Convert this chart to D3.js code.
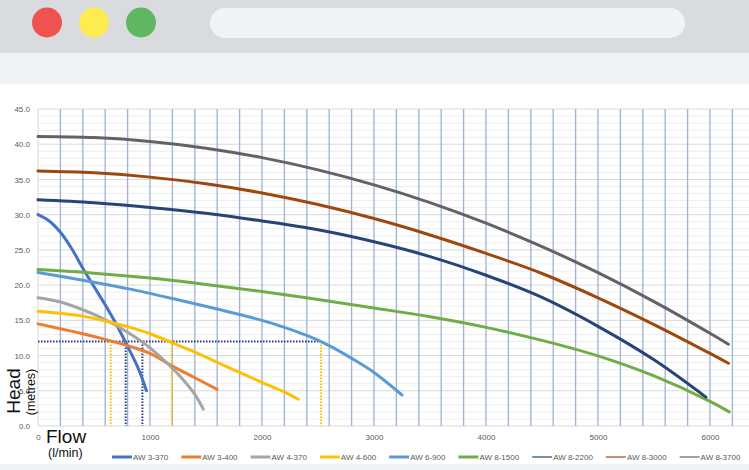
<!DOCTYPE html>
<html>
<head>
<meta charset="utf-8">
<script src="https://cdn.jsdelivr.net/npm/d3@7"></script>
<style>
  html, body { margin: 0; padding: 0; overflow: hidden; background: #f1f2f3; }
  svg { display: block; font-family: "Liberation Sans", Arial, sans-serif; }
  .tick text { fill: #595959; font-size: 8px; }
</style>
</head>
<body>
<div id="chart"></div>
<script>
// Pump curves: [flow l/min, head m]
const seriesNames = ['AW 3-370', 'AW 3-400', 'AW 4-370', 'AW 4-600', 'AW 6-900',
  'AW 8-1500', 'AW 8-2200', 'AW 8-3000', 'AW 8-3700'];

const aw3_370 = [[0, 30.0], [100, 29.1], [200, 27.5], [300, 25.2], [400, 22.4], [500, 19.8],
  [600, 17.2], [700, 14.4], [800, 11.3], [900, 8.0], [968, 5.0]];
const aw3_400 = [[0, 14.5], [200, 13.8], [400, 13.1], [600, 12.3], [800, 11.4], [1000, 10.3],
  [1200, 8.5], [1400, 6.85], [1600, 5.2]];
const aw4_370 = [[0, 18.2], [200, 17.6], [400, 16.5], [600, 15.1], [800, 13.3], [1000, 11.1],
  [1200, 8.2], [1300, 6.5], [1400, 4.5], [1476, 2.4]];
const aw4_600 = [[0, 16.3], [200, 16.0], [400, 15.6], [600, 14.9], [800, 14.1], [1000, 13.1],
  [1200, 11.8], [1400, 10.5], [1600, 9.05], [1800, 7.6], [2000, 6.2], [2200, 4.8], [2324, 3.8]];
const aw6_900 = [[0, 21.8], [400, 20.7], [800, 19.5], [1200, 18.1], [1600, 16.6], [2000, 15.0],
  [2200, 14.0], [2400, 12.85], [2600, 11.4], [2800, 9.6], [3000, 7.6], [3250, 4.4]];
const aw8_1500 = [[0, 22.2], [500, 21.7], [1000, 21.0], [1500, 20.1], [2000, 19.1], [2500, 17.95],
  [3000, 16.75], [3500, 15.5], [4000, 14.0], [4500, 12.15], [5000, 9.95], [5500, 7.1],
  [6000, 3.5], [6172, 2.0]];
const aw8_2200 = [[0, 32.1], [500, 31.68], [1000, 31.03], [1500, 30.2], [2000, 29.1], [2500, 27.85],
  [3000, 26.15], [3500, 24.05], [4000, 21.4], [4500, 18.25], [5000, 14.15], [5500, 9.4],
  [5964, 4.1]];
const aw8_3000 = [[0, 36.2], [500, 35.94], [1000, 35.33], [1500, 34.38], [2000, 33.08], [2500, 31.44],
  [3000, 29.45], [3500, 27.12], [4000, 24.5], [4500, 21.65], [5000, 18.2], [5500, 14.4],
  [6000, 10.3], [6164, 8.9]];
const aw8_3700 = [[0, 41.1], [500, 40.94], [1000, 40.39], [1500, 39.44], [2000, 38.1], [2500, 36.36],
  [3000, 34.23], [3500, 31.71], [4000, 28.79], [4500, 25.47], [5000, 21.76], [5500, 17.66],
  [6000, 13.16], [6164, 11.6]];

const seriesData = [aw3_370, aw3_400, aw4_370, aw4_600, aw6_900, aw8_1500, aw8_2200, aw8_3000, aw8_3700];
const seriesColors = ['#4472C4', '#ED7D31', '#A5A5A5', '#FFC000', '#5B9BD5',
  '#70AD47', '#264478', '#9E480E', '#636363'];

// Duty point markers (dotted)
const dutyHead = 12;
const dutyFlows = [649, 783, 932, 1194, 2527];
const dutyColors = ['#FFC000', '#2E3A8C', '#2E3A8C', '#FFC000', '#FFC000'];

const yTicks = d3.range(0, 46, 5);
const xTicks = d3.range(0, 6001, 1000);

const W = 749, H = 470;
const svg = d3.select('#chart').append('svg').attr('width', W).attr('height', H);

// Browser chrome
svg.append('rect').attr('width', W).attr('height', 53).attr('fill', '#d9dbde');
svg.append('rect').attr('y', 53).attr('width', W).attr('height', 31).attr('fill', '#f1f2f3');
svg.append('rect').attr('y', 84).attr('width', W).attr('height', 380).attr('fill', '#ffffff');
[['#ef5350', 47], ['#fdeb4f', 94], ['#5fb861', 141]].forEach(([c, cx]) => {
  svg.append('circle').attr('cx', cx).attr('cy', 22.5).attr('r', 15).attr('fill', c);
});
svg.append('rect').attr('x', 210).attr('y', 8).attr('width', 475).attr('height', 30)
  .attr('rx', 15).attr('fill', '#f2f3f4');

const x = d3.scaleLinear().domain([0, 6400]).range([38, 754.8]);
const y = d3.scaleLinear().domain([0, 45]).range([426, 109]);

const grid = svg.append('g');
// minor horizontal grid
grid.selectAll('.hmin').data(d3.range(1, 45).filter(d => d % 5 !== 0)).enter().append('line')
  .attr('x1', x(0)).attr('x2', W).attr('y1', d => y(d)).attr('y2', d => y(d))
  .attr('stroke', '#eeeeee').attr('stroke-width', 1);
// major horizontal grid
grid.selectAll('.hmaj').data(yTicks).enter().append('line')
  .attr('x1', x(0)).attr('x2', W).attr('y1', d => y(d)).attr('y2', d => y(d))
  .attr('stroke', '#d9d9d9').attr('stroke-width', 1);
// vertical grid
grid.selectAll('.v').data(d3.range(200, 6401, 200)).enter().append('line')
  .attr('x1', d => x(d)).attr('x2', d => x(d)).attr('y1', y(45)).attr('y2', y(0))
  .attr('stroke', '#9db2d6').attr('stroke-width', 1.3);
grid.append('line').attr('x1', x(0)).attr('x2', x(0)).attr('y1', y(45)).attr('y2', y(0))
  .attr('stroke', '#d9d9d9');

// Axes
svg.append('g')
  .attr('transform', `translate(${x(0)},0)`)
  .call(d3.axisLeft(y).tickValues(yTicks).tickFormat(d3.format('.1f')).tickSize(0).tickPadding(8))
  .call(g => g.select('.domain').remove());
svg.append('g')
  .attr('transform', `translate(0,${y(0)})`)
  .call(d3.axisBottom(x).tickValues(xTicks).tickFormat(d3.format('d')).tickSize(0).tickPadding(8))
  .call(g => g.select('.domain').remove());

// Dotted duty lines
svg.append('line')
  .attr('x1', x(0)).attr('x2', x(d3.max(dutyFlows))).attr('y1', y(dutyHead)).attr('y2', y(dutyHead))
  .attr('stroke', '#2E3A8C').attr('stroke-width', 2).attr('stroke-dasharray', '1.5,1.5');
svg.selectAll('.duty').data(dutyFlows).enter().append('line')
  .attr('x1', d => x(d)).attr('x2', d => x(d)).attr('y1', y(dutyHead)).attr('y2', y(0))
  .attr('stroke', (d, i) => dutyColors[i]).attr('stroke-width', 2).attr('stroke-dasharray', '1.5,1.5');

// Curves
const line = d3.line().x(d => x(d[0])).y(d => y(d[1])).curve(d3.curveCatmullRom.alpha(0.5));
svg.selectAll('.curve').data(seriesData).enter().append('path')
  .attr('d', line)
  .attr('fill', 'none')
  .attr('stroke', (d, i) => seriesColors[i])
  .attr('stroke-width', 3)
  .attr('stroke-linecap', 'round');

// Axis titles
svg.append('text').attr('transform', 'translate(20,391) rotate(-90)')
  .attr('text-anchor', 'middle').attr('font-size', 19).attr('fill', '#111').text('Head');
svg.append('text').attr('transform', 'translate(34.5,392) rotate(-90)')
  .attr('text-anchor', 'middle').attr('font-size', 12.5).attr('fill', '#111').text('(metres)');
svg.append('text').attr('x', 46).attr('y', 443)
  .attr('font-size', 19).attr('fill', '#111').text('Flow');
svg.append('text').attr('x', 48).attr('y', 457)
  .attr('font-size', 12.5).attr('fill', '#111').text('(l/min)');

// Legend
let lx = 112;
const ly = 457;
seriesNames.forEach((name, i) => {
  svg.append('line').attr('x1', lx).attr('x2', lx + 20).attr('y1', ly).attr('y2', ly)
    .attr('stroke', seriesColors[i]).attr('stroke-width', i < 6 ? 3 : 1.2);
  const t = svg.append('text').attr('x', lx + 21).attr('y', ly + 3)
    .attr('font-size', 8).attr('fill', '#595959').text(name);
  lx += 21 + t.node().getComputedTextLength() + 13;
});
</script>
</body>
</html>
